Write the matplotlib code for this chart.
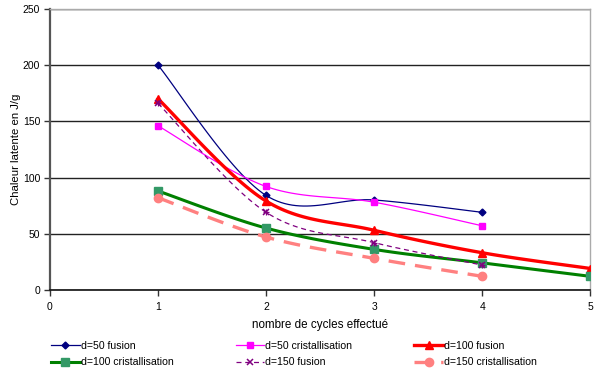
import numpy as np
import matplotlib.pyplot as plt

plt.rcParams['font.family'] = ['Liberation Sans', 'DejaVu Sans']

cycles_4 = [1, 2, 3, 4]
cycles_5 = [1, 2, 3, 4, 5]
d50_fusion = [200, 84, 80, 69]
d50_crist = [146, 92, 78, 57]
d100_fusion = [170, 79, 53, 33, 19]
d100_crist = [88, 55, 36, 24, 12]
d150_fusion = [166, 69, 42, 22]
d150_crist = [82, 47, 28, 12]


def smooth(x, y, n=30):
    # Catmull-Rom curve through the points, like Excel's smoothed line
    x = np.asarray(x, float)
    y = np.asarray(y, float)
    px = np.concatenate([[x[0]], x, [x[-1]]])
    py = np.concatenate([[y[0]], y, [y[-1]]])
    xs, ys = [], []
    t = np.linspace(0, 1, n)
    for i in range(1, len(px) - 2):
        p0, p1, p2, p3 = [np.array([px[k], py[k]]) for k in range(i - 1, i + 3)]
        c1 = p1 + (p2 - p0) / 6
        c2 = p2 - (p3 - p1) / 6
        pts = ((1 - t) ** 3)[:, None] * p1 + (3 * (1 - t) ** 2 * t)[:, None] * c1 \
            + (3 * (1 - t) * t ** 2)[:, None] * c2 + (t ** 3)[:, None] * p2
        xs.extend(pts[:, 0])
        ys.extend(pts[:, 1])
    return xs, ys


fig = plt.figure(figsize=(5.94, 3.74), dpi=100)
ax = fig.add_axes([0.084, 0.225, 0.910, 0.751])

series = [
    (cycles_4, d50_fusion, 'd=50 fusion', dict(color='#000080', lw=0.9, ls='-'),
     dict(marker='D', ms=3.5, mfc='#000080', mec='#000080')),
    (cycles_4, d50_crist, 'd=50 cristallisation', dict(color='#FF00FF', lw=0.9, ls='-'),
     dict(marker='s', ms=5, mfc='#FF00FF', mec='#FF00FF')),
    (cycles_5, d100_fusion, 'd=100 fusion', dict(color='#FF0000', lw=2.4, ls='-'),
     dict(marker='^', ms=6, mfc='#FF0000', mec='#FF0000')),
    (cycles_5, d100_crist, 'd=100 cristallisation', dict(color='#008000', lw=2.2, ls='-'),
     dict(marker='s', ms=6, mfc='#339966', mec='#339966')),
    (cycles_4, d150_fusion, 'd=150 fusion', dict(color='#800080', lw=0.9, ls=(0, (4, 3))),
     dict(marker='x', ms=5, mfc='#800080', mec='#800080', mew=1.1)),
    (cycles_4, d150_crist, 'd=150 cristallisation', dict(color='#FF8080', lw=2.4, ls=(0, (5, 3))),
     dict(marker='o', ms=6, mfc='#FF8080', mec='#FF8080')),
]

handles = []
for x, y, label, lstyle, mstyle in series:
    sx, sy = smooth(x, y)
    ax.plot(sx, sy, zorder=3, **lstyle)
    ax.plot(x, y, ls='none', zorder=4, **mstyle)
    h, = ax.plot([], [], label=label, **lstyle, **mstyle)
    handles.append(h)
    if mstyle['marker'] == 'x':
        ax.plot(x, y, ls='none', marker='+', ms=5, mec='#800080', mew=0.9, zorder=4)

ax.set_xlim(0, 5)
ax.set_ylim(0, 250)
ax.set_xticks([0, 1, 2, 3, 4, 5])
ax.set_yticks([0, 50, 100, 150, 200, 250])
ax.yaxis.grid(True, color='#222222', lw=1.0)
ax.set_axisbelow(True)
ax.tick_params(labelsize=7.5, length=4, width=1, color='#333333')
ax.tick_params(axis='x', pad=5)
ax.tick_params(axis='y', pad=3)

for s in ['top', 'right']:
    ax.spines[s].set_color('#aaaaaa')
    ax.spines[s].set_linewidth(1)
ax.spines['left'].set_color('#555555')
ax.spines['left'].set_linewidth(1.6)
ax.spines['bottom'].set_color('#111111')
ax.spines['bottom'].set_linewidth(1.2)

ax.set_xlabel('nombre de cycles effectué', fontsize=8.4, labelpad=5)
ax.set_ylabel('Chaleur latente en J/g', fontsize=8.2, labelpad=1)

# legend is filled row by row in the reference; matplotlib fills columns
order = [0, 3, 1, 4, 2, 5]
fig.legend(handles=[handles[i] for i in order], loc='lower left',
           bbox_to_anchor=(0.07, -0.008), ncol=3,
           frameon=False, fontsize=7.6, handlelength=2.7, handletextpad=0.1,
           columnspacing=5.9, labelspacing=0.6)

fig.savefig('out.png', dpi=100)
